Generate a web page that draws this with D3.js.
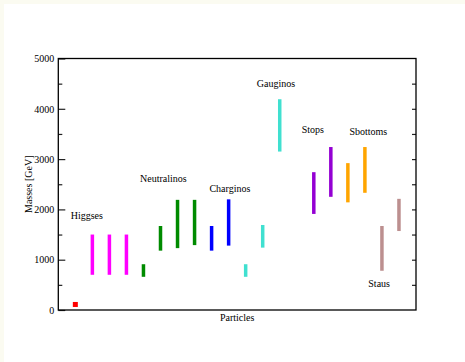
<!doctype html>
<html>
<head>
<meta charset="utf-8">
<title>Particle masses</title>
<script src="https://d3js.org/d3.v7.min.js"></script>
<style>
  body { margin: 0; background: #fbfbf1; }
  svg { display: block; }
  text { font-family: "Liberation Serif", "DejaVu Serif", serif; fill: #000; }
</style>
</head>
<body>
<script>

    // mass ranges per slot, in GeV
    var slots  = [2, 3, 4, 5, 6, 7, 8, 9, 10, 11, 12, 13, 15, 16, 17, 18, 19, 20];
    var lows   = [700, 700, 700, 660, 1180, 1230, 1290, 1180, 1280, 660, 1240, 3150, 1910, 2250, 2140, 2330, 780, 1570];
    var highs  = [1500, 1500, 1500, 910, 1670, 2190, 2190, 1670, 2200, 910, 1690, 4190, 2740, 3240, 2920, 3240, 1670, 2210];
    var groupOf = [0, 0, 0, 1, 1, 1, 1, 2, 2, 3, 3, 3, 4, 4, 5, 5, 6, 6];

    // light higgs point
    var pointSlot = [1];
    var pointMass = [110];

    var groups = ["Higgses", "Neutralinos", "Charginos", "Gauginos", "Stops", "Sbottoms", "Staus"];
    var groupColors = ["#ff00ff", "#008b00", "#0000ff", "#40e0d0", "#9400d3", "#ffa500", "#bc8f8f"];
    var labelSlot = [0.73, 4.8, 8.87, 11.65, 14.29, 17.09, 18.2];
    var labelMass = [1809, 2551, 2340, 4439, 3513, 3479, 463];

    var yTicks = [0, 1000, 2000, 3000, 4000, 5000];
    var yMinor = [500, 1500, 2500, 3500, 4500];

    var W = 465, H = 362;
    var mLeft = 58.3, mRight = 416, mTop = 58.5, mBottom = 310;

    var svg = d3.select("body").append("svg")
        .attr("width", W)
        .attr("height", H);

    svg.append("rect")
        .attr("x", 4)
        .attr("y", 4)
        .attr("width", W - 4)
        .attr("height", H - 4)
        .attr("fill", "#fff");

    var x = d3.scaleLinear().domain([0, 21]).range([mLeft, mRight]);
    var y = d3.scaleLinear().domain([0, 5000]).range([mBottom, mTop]);

    // left axis, major + minor, ticks inward
    var gLeft = svg.append("g")
        .attr("transform", "translate(" + mLeft + ",0)")
        .call(d3.axisLeft(y).tickValues(yTicks).tickSize(-7).tickPadding(4).tickFormat(d3.format("d")));
    gLeft.select(".domain").remove();
    gLeft.selectAll("text")
        .attr("font-size", "10px")
        .attr("font-family", "Liberation Serif")
        .attr("fill", "#222");
    gLeft.selectAll("line").attr("stroke", "#222").attr("stroke-width", 1.2);

    var gLeftMinor = svg.append("g")
        .attr("transform", "translate(" + mLeft + ",0)")
        .call(d3.axisLeft(y).tickValues(yMinor).tickSize(-4).tickFormat(""));
    gLeftMinor.select(".domain").remove();
    gLeftMinor.selectAll("line").attr("stroke", "#222").attr("stroke-width", 1.2);

    // right axis, inward ticks every 500
    var gRight = svg.append("g")
        .attr("transform", "translate(" + mRight + ",0)")
        .call(d3.axisRight(y).tickValues(yMinor.concat(yTicks.slice(1, 5))).tickSize(-4).tickFormat(""));
    gRight.select(".domain").remove();
    gRight.selectAll("line").attr("stroke", "#222").attr("stroke-width", 1.2);

    // frame
    svg.append("rect")
        .attr("x", mLeft)
        .attr("y", mTop)
        .attr("width", mRight - mLeft)
        .attr("height", mBottom - mTop)
        .attr("fill", "none")
        .attr("stroke", "#000")
        .attr("stroke-width", 1.3);

    // mass bars
    svg.selectAll(".bar")
        .data(slots)
        .enter().append("rect")
        .attr("class", "bar")
        .attr("x", function(d) { return x(d) - 1.75; })
        .attr("y", function(d, i) { return y(highs[i]); })
        .attr("width", 3.5)
        .attr("height", function(d, i) { return y(lows[i]) - y(highs[i]); })
        .attr("fill", function(d, i) { return groupColors[groupOf[i]]; });

    // light higgs
    svg.selectAll(".pt")
        .data(pointSlot)
        .enter().append("rect")
        .attr("class", "pt")
        .attr("x", function(d) { return x(d) - 2.5; })
        .attr("y", function(d, i) { return y(pointMass[i]) - 2.5; })
        .attr("width", 5)
        .attr("height", 5)
        .attr("fill", "#ff0000");

    // group labels
    svg.selectAll(".lbl")
        .data(groups)
        .enter().append("text")
        .attr("class", "lbl")
        .attr("x", function(d, i) { return x(labelSlot[i]); })
        .attr("y", function(d, i) { return y(labelMass[i]); })
        .attr("font-size", "10px")
        .attr("fill", "#222")
        .text(function(d) { return d; });

    // axis titles
    svg.append("text")
        .attr("x", (mLeft + mRight) / 2)
        .attr("y", 321)
        .attr("text-anchor", "middle")
        .attr("font-size", "10px")
        .attr("fill", "#222")
        .text("Particles");

    svg.append("text")
        .attr("transform", "translate(32," + ((mTop + mBottom) / 2) + ") rotate(-90)")
        .attr("text-anchor", "middle")
        .attr("font-size", "10px")
        .attr("fill", "#222")
        .text("Masses [GeV]");

</script>
</body>
</html>
